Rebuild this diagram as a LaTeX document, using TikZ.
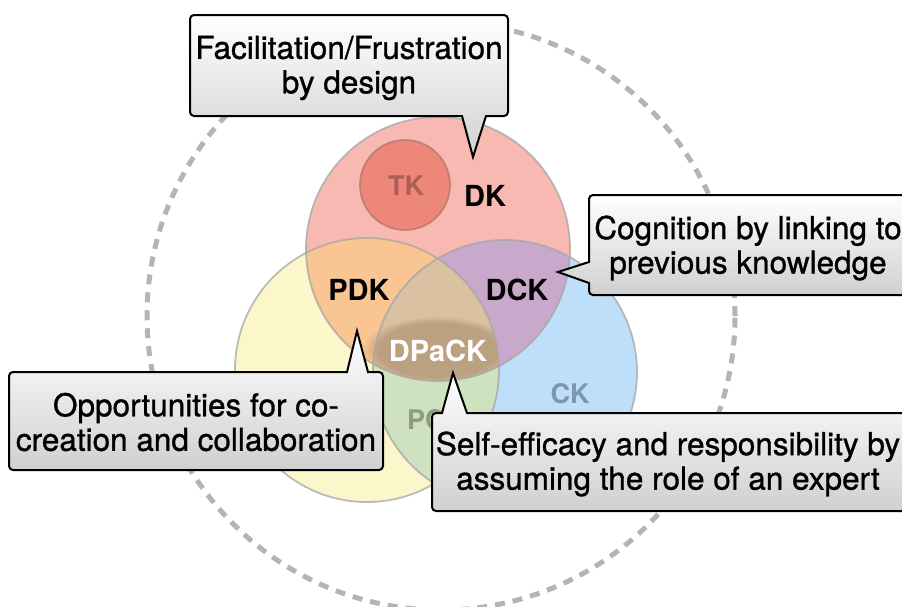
\documentclass[tikz,border=0pt]{standalone}
\usepackage{fontspec}
\setmainfont{TeX Gyre Heros}
\newfontfamily\calloutfont[FakeBold=1.0]{TeX Gyre Heros}
\usetikzlibrary{fadings}
\definecolor{dkfill}{HTML}{F9B9B3}
\definecolor{pfill}{HTML}{FCF7CA}
\definecolor{ckfill}{HTML}{BEDFFA}
\definecolor{pdkfill}{HTML}{F9C592}
\definecolor{dckfill}{HTML}{C8A9CB}
\definecolor{pckfill}{HTML}{CFE2C0}
\definecolor{allfill}{HTML}{D9C1A2}
\definecolor{tkfill}{HTML}{EC877A}
\definecolor{tkline}{HTML}{B57870}
\definecolor{ringgray}{HTML}{A6A6A6}
\definecolor{dashgray}{HTML}{B4B4B4}
\definecolor{boxgray}{HTML}{D0D0D0}
\definecolor{tktext}{HTML}{AC5E55}
\definecolor{cktext}{HTML}{7E97AE}
\definecolor{pcktext}{HTML}{8E9C86}
\definecolor{glowcol}{HTML}{7A5838}
\begin{document}
\begin{tikzpicture}[x=1pt,y=-1pt,
  callout/.style={draw=black, line width=2pt, line join=miter, top color=white, bottom color=boxgray},
  ctext/.style={font=\calloutfont\fontsize{31.5}{34.5}\selectfont, align=center, text=black, inner sep=0pt},
  lab/.style={font=\bfseries\fontsize{29}{30}\selectfont, inner sep=0pt},
  slab/.style={font=\bfseries\fontsize{27}{30}\selectfont, inner sep=0pt},
  ring/.style={draw=ringgray, line width=1.8pt, draw opacity=0.75},
  dashring/.style={draw=dashgray, line width=5pt, dash pattern=on 10pt off 8pt}]
\useasboundingbox (0,0) rectangle (902,606);
\clip (0,0) rectangle (902,606);

% outer dashed ring
\draw[dashring] (441,316) circle[radius=294pt];

% base circles
\fill[pfill]  (367,370) circle[radius=132pt];
\fill[ckfill] (505,372) circle[radius=132pt];
\fill[dkfill] (438,249) circle[radius=132pt];
% overlaps
\begin{scope}
  \clip (438,249) circle[radius=132pt];
  \fill[pdkfill] (367,370) circle[radius=132pt];
  \fill[dckfill] (505,372) circle[radius=132pt];
\end{scope}
\begin{scope}
  \clip (367,370) circle[radius=132pt];
  \fill[pckfill] (505,372) circle[radius=132pt];
\end{scope}
\begin{scope}
  \clip (438,249) circle[radius=132pt];
  \clip (367,370) circle[radius=132pt];
  \fill[allfill] (505,372) circle[radius=132pt];
  \fill[glowcol, opacity=0.3, path fading=circle with fuzzy edge 20 percent] (438,350) ellipse[x radius=75pt, y radius=34pt];
\end{scope}
% outlines
\draw[ring] (367,370) circle[radius=132pt];
\draw[ring] (505,372) circle[radius=132pt];
\draw[ring] (438,249) circle[radius=132pt];
% TK circle
\draw[fill=tkfill, draw=tkline, line width=1.8pt, draw opacity=0.8] (405,185) circle[radius=45pt];

% labels
\node[slab, text=tktext] (tk) at (406,186) {TK};
\node[lab] (dk) at (485,196) {DK};
\node[lab] (pdk) at (359,290) {PDK};
\node[lab] (dck) at (517,290) {DCK};
\node[lab, text=white] (dpack) at (438,351) {DPaCK};
\node[slab, text=cktext] (ck) at (570,394) {CK};
\node[slab, text=pcktext, anchor=west] (pck) at (407,420) {PCK};

% callout tips
\coordinate (tip1) at (473,157);
\coordinate (tip2) at (558,272);
\coordinate (tip3) at (357,331);
\coordinate (tip4) at (453,373);

% callout 1
\draw[callout] (194,15) -- (504,15) arc[start angle=90, end angle=0, radius=4pt] -- (508,112) arc[start angle=0, end angle=-90, radius=4pt] -- (486,116) -- (tip1) -- (462,116) -- (194,116) arc[start angle=-90, end angle=-180, radius=4pt] -- (190,19) arc[start angle=180, end angle=90, radius=4pt] -- cycle;
\node[ctext] (c1) at (349,68) {Facilitation/Frustration\\by design};

% callout 2
\draw[callout] (593,195) -- (910,195) -- (910,295) -- (593,295) arc[start angle=-90, end angle=-180, radius=4pt] -- (589,283) -- (tip2) -- (589,262) -- (589,199) arc[start angle=180, end angle=90, radius=4pt] -- cycle;
\node[ctext] (c2) at (748,248) {Cognition by linking to\\previous knowledge};

% callout 3
\draw[callout] (13,372) -- (347,372) -- (tip3) -- (368,372) -- (379,372) arc[start angle=90, end angle=0, radius=4pt] -- (383,466) arc[start angle=0, end angle=-90, radius=4pt] -- (13,470) arc[start angle=-90, end angle=-180, radius=4pt] -- (9,376) arc[start angle=180, end angle=90, radius=4pt] -- cycle;
\node[ctext] (c3) at (196,422) {Opportunities for co-\\creation and collaboration};

% callout 4
\draw[callout] (436,413) -- (442,413) -- (tip4) -- (467,413) -- (910,413) -- (910,511) -- (436,511) arc[start angle=-90, end angle=-180, radius=4pt] -- (432,417) arc[start angle=180, end angle=90, radius=4pt] -- cycle;
\node[ctext] (c4) at (668,464) {Self-efficacy and responsibility by\\assuming the role of an expert};
\end{tikzpicture}
\end{document}
